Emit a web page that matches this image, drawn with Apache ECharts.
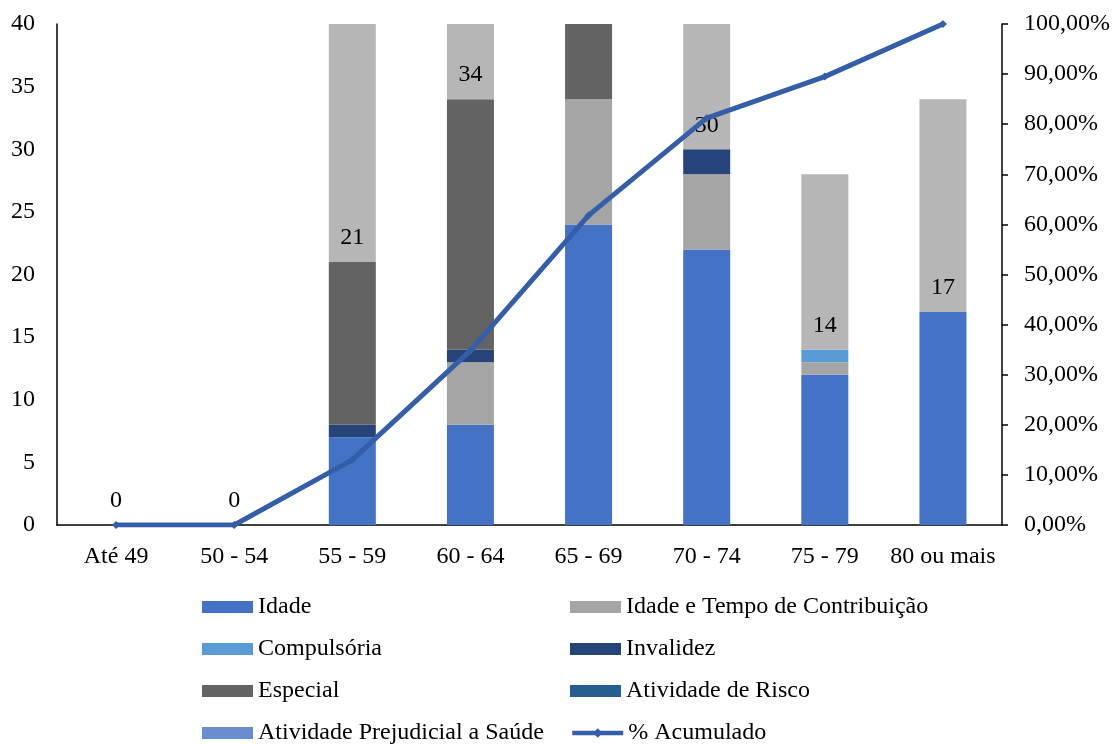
<!DOCTYPE html>
<html>
<head>
<meta charset="utf-8">
<script src="https://cdn.jsdelivr.net/npm/echarts@6/dist/echarts.min.js"></script>
<style>html,body{margin:0;padding:0;background:#fff}#c{width:1113px;height:744px}</style>
</head>
<body>
<div id="c"></div>
<script>
var categories = ['Até 49', '50 - 54', '55 - 59', '60 - 64', '65 - 69', '70 - 74', '75 - 79', '80 ou mais'];
var idade = [0, 0, 7, 8, 24, 22, 12, 17];
var idadeTempo = [0, 0, 0, 5, 10, 6, 1, 0];
var compulsoria = [0, 0, 0, 0, 0, 0, 1, 0];
var invalidez = [0, 0, 1, 1, 0, 2, 0, 0];
var especial = [0, 0, 13, 20, 9, 0, 0, 0];
var atividadeRisco = [0, 0, 0, 0, 0, 0, 0, 0];
var atividadePrejudicial = [0, 0, 0, 0, 0, 0, 0, 0];
var totais = [0, 0, 21, 34, 43, 30, 14, 17];
var acumulado = [0, 0, 13.0, 34.8, 61.8, 81.2, 89.5, 100];
var leftTicks = [0, 40, 5];
var rightTicks = [0, 100, 10];

var FONT = 'Liberation Serif';
var FS = 24;
function bar(name, data, color) {
  return {
    name: name, type: 'bar', stack: 'a', data: data, barWidth: 47,
    itemStyle: { color: color },
    emphasis: { disabled: true }
  };
}
var series = [
  bar('Idade', idade, '#4472C4'),
  bar('Idade e Tempo de Contribuição', idadeTempo, '#A5A5A5'),
  bar('Compulsória', compulsoria, '#5B9BD5'),
  bar('Invalidez', invalidez, '#264478'),
  bar('Especial', especial, '#636363'),
  bar('Atividade de Risco', atividadeRisco, '#255E91'),
  bar('Atividade Prejudicial a Saúde', atividadePrejudicial, '#698ED0'),
  {
    name: 'Total', type: 'bar', stack: 'a', data: totais, barWidth: 47,
    itemStyle: { color: '#B6B6B6' },
    label: { show: true, position: 'insideBottom', distance: 12, color: '#000', fontFamily: FONT, fontSize: FS },
    emphasis: { disabled: true }
  },
  {
    name: '% Acumulado', type: 'line', yAxisIndex: 1, data: acumulado,
    symbol: 'diamond', symbolSize: 8, z: 5,
    lineStyle: { color: '#355EA8', width: 5 },
    itemStyle: { color: '#355EA8' },
    emphasis: { disabled: true }
  }
];
var legendText = { fontFamily: FONT, fontSize: FS, color: '#000', lineHeight: 24 };
var legendItems = [
  ['Idade', 202, 607], ['Idade e Tempo de Contribuição', 570, 607],
  ['Compulsória', 202, 649], ['Invalidez', 570, 649],
  ['Especial', 202, 691], ['Atividade de Risco', 570, 691],
  ['Atividade Prejudicial a Saúde', 202, 733], ['% Acumulado', 570, 733]
];
var legends = legendItems.map(function (it) {
  var item = it[0] === '% Acumulado'
    ? { name: it[0], lineStyle: { width: 4.5 }, itemStyle: { color: '#355EA8' } }
    : { name: it[0], icon: 'rect' };
  return {
    left: it[1], top: it[2] - 12, itemWidth: 51, itemHeight: 12, itemGap: 6, padding: 0,
    textStyle: legendText, selectedMode: false,
    data: [item]
  };
});
var option = {
  animation: false,
  textStyle: { fontFamily: FONT },
  grid: { left: 57, right: 107, top: 24, bottom: 219 },
  legend: legends,
  xAxis: {
    type: 'category', data: categories,
    axisLine: { lineStyle: { color: '#000', width: 1.5 } },
    axisTick: { show: false },
    axisLabel: { color: '#000', fontFamily: FONT, fontSize: FS, margin: 20, interval: 0 }
  },
  yAxis: [
    {
      type: 'value', min: leftTicks[0], max: leftTicks[1], interval: leftTicks[2],
      axisLine: { show: true, lineStyle: { color: '#000', width: 1.5 } },
      axisTick: { show: false },
      splitLine: { show: false },
      axisLabel: { color: '#000', fontFamily: FONT, fontSize: FS, margin: 22 }
    },
    {
      type: 'value', min: rightTicks[0], max: rightTicks[1], interval: rightTicks[2],
      axisLine: { show: true, lineStyle: { color: '#000', width: 1.5 } },
      axisTick: { show: true, length: 6, lineStyle: { color: '#000', width: 1.5 } },
      splitLine: { show: false },
      axisLabel: { color: '#000', fontFamily: FONT, fontSize: FS, margin: 22,
        formatter: function (v) { return v.toFixed(2).replace('.', ',') + '%'; } }
    }
  ],
  series: series
};
var chart = echarts.init(document.getElementById('c'), null, { renderer: 'canvas' });
chart.setOption(option);
</script>
</body>
</html>
